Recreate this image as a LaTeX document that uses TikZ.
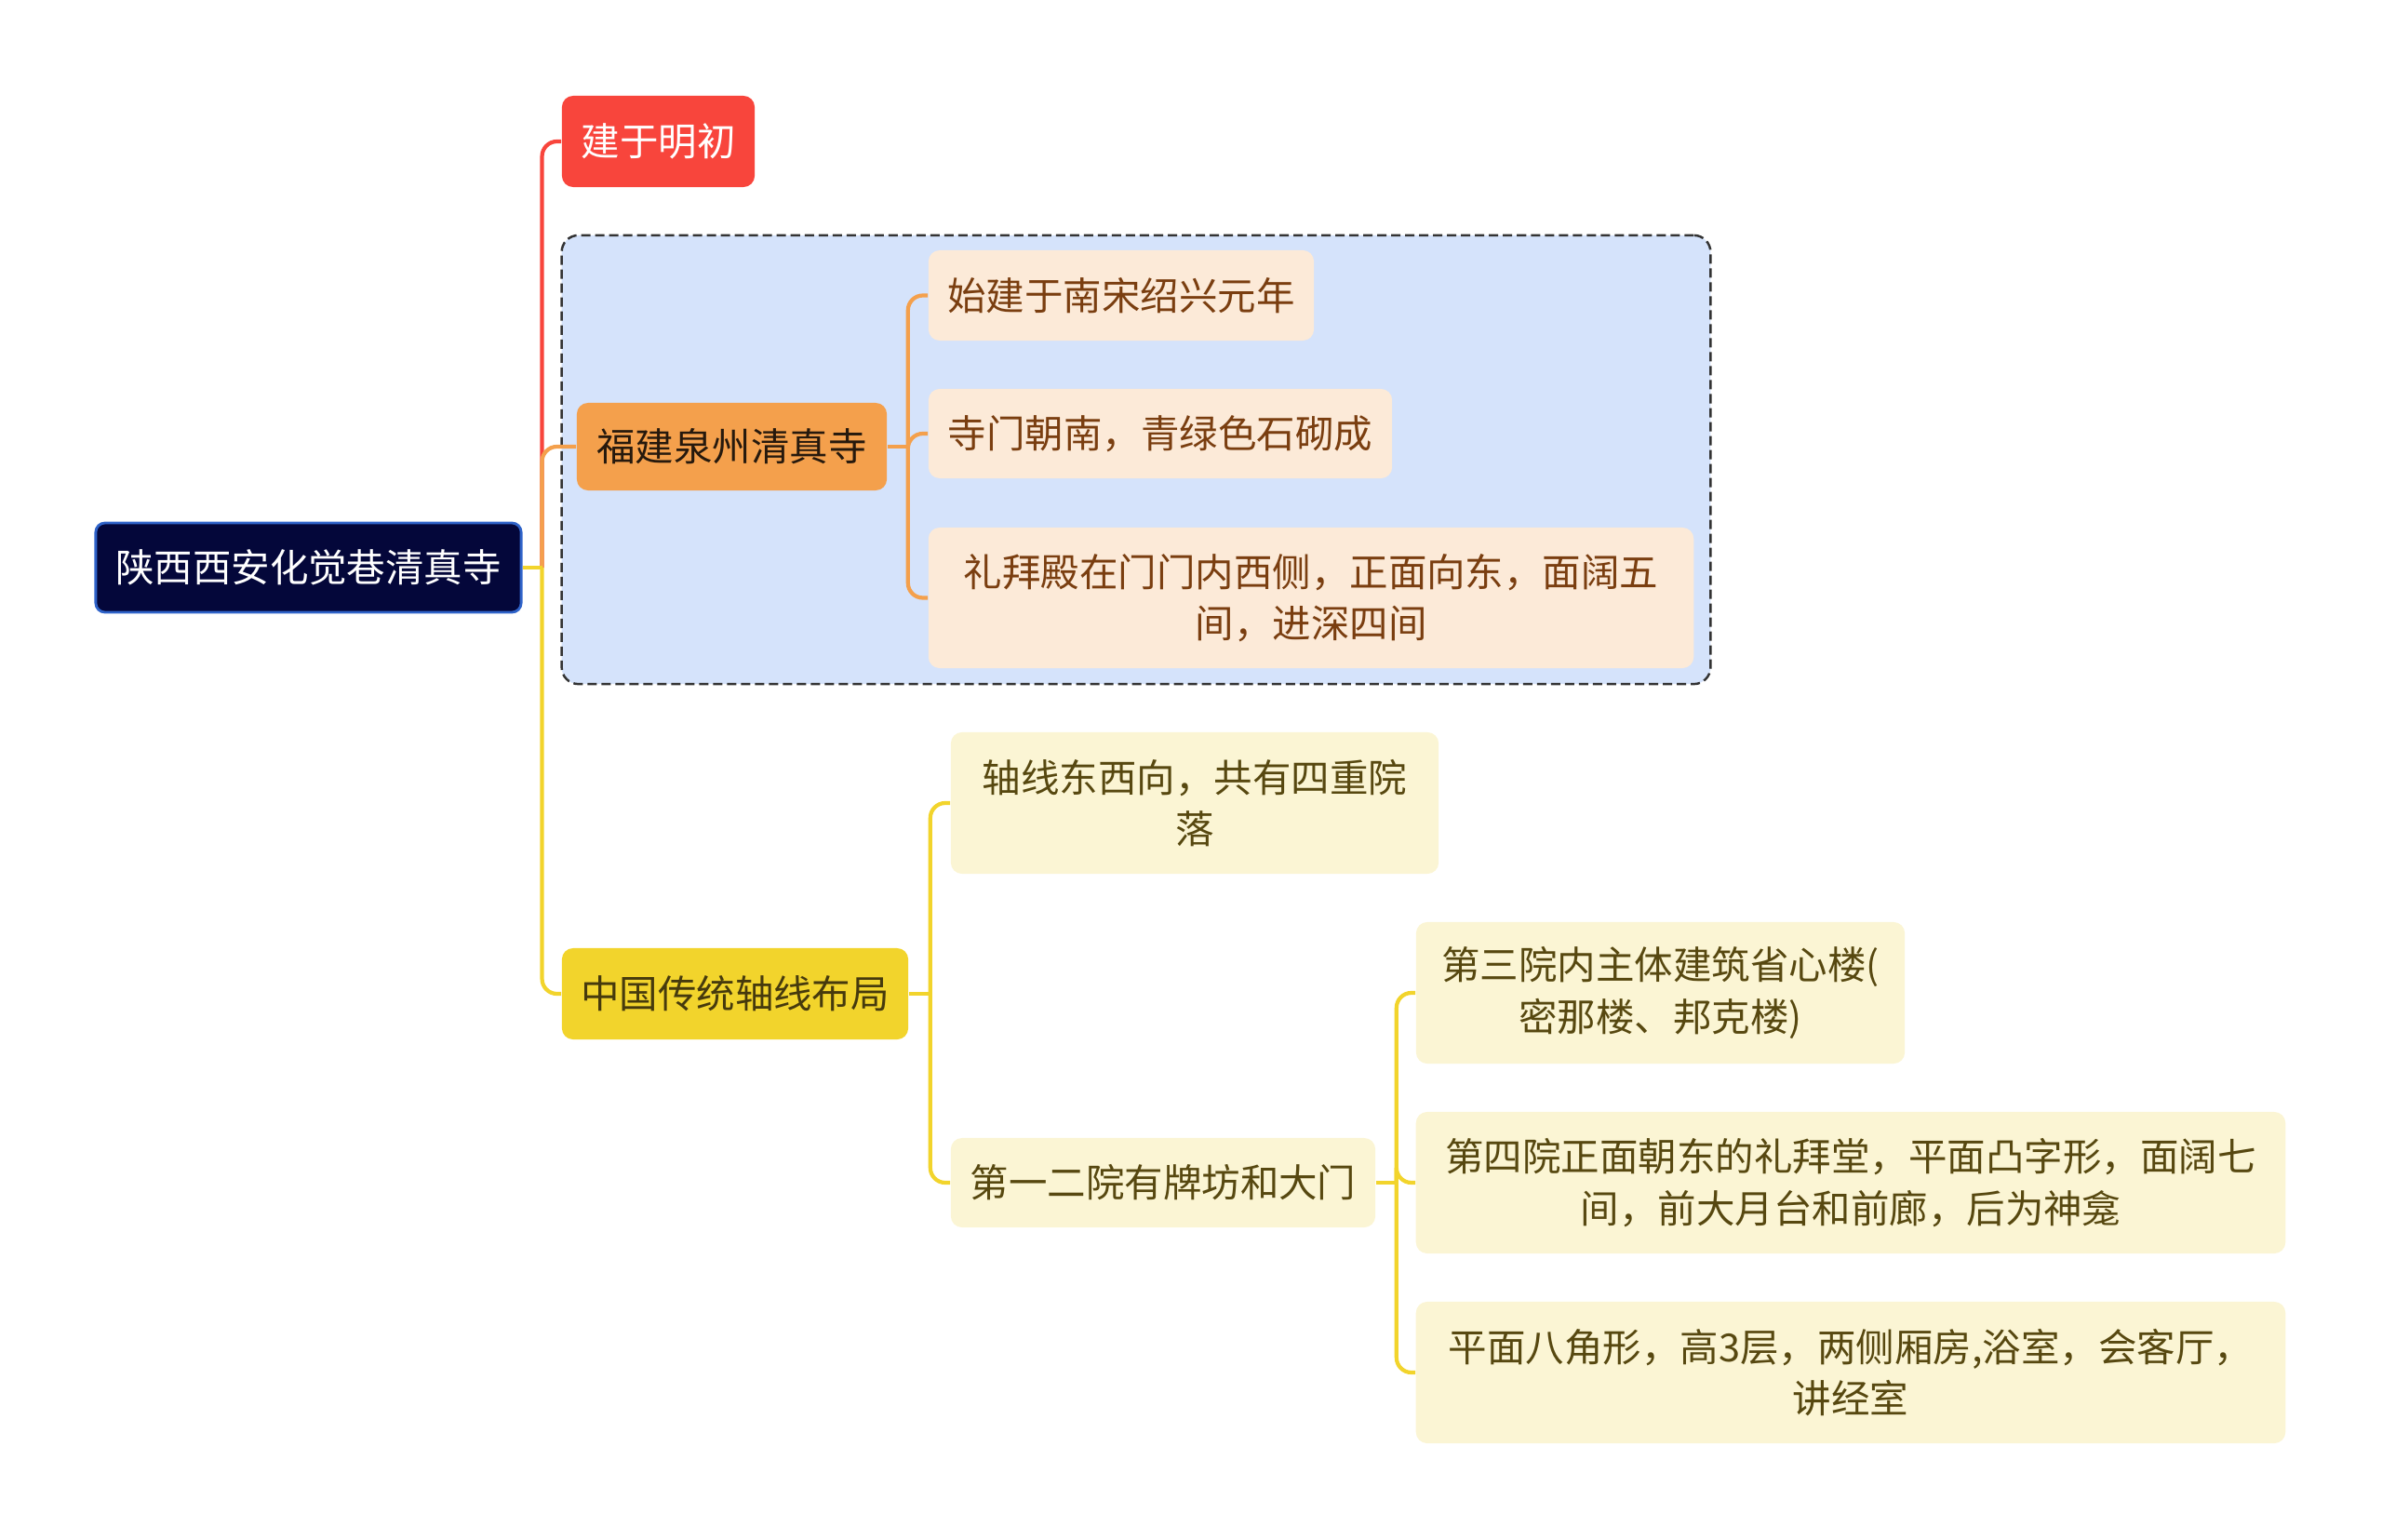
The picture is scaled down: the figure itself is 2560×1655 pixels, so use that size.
\documentclass[tikz,border=0pt]{standalone}
\usepackage{fontspec}
\setmainfont{Noto Sans CJK SC}
\usepackage{xcolor}
\usetikzlibrary{positioning,calc}
\definecolor{navy}{HTML}{04073A}
\definecolor{navyline}{HTML}{2F63C9}
\definecolor{redfill}{HTML}{F8453C}
\definecolor{orangefill}{HTML}{F4A04C}
\definecolor{peach}{HTML}{FCEAD8}
\definecolor{peachtext}{HTML}{7A3E10}
\definecolor{yellowfill}{HTML}{F2D42C}
\definecolor{paleyellow}{HTML}{FBF5D4}
\definecolor{olivetext}{HTML}{574810}
\definecolor{groupfill}{HTML}{D5E3FB}
\tikzset{
  rootbox/.style={draw=navyline,line width=0.8pt,rounded corners=0.1cm,fill=navy,text=white,align=center,inner sep=0pt},
  redbox/.style={rounded corners=0.12cm,fill=redfill,text=white,align=center,inner sep=0pt},
  orangebox/.style={rounded corners=0.12cm,fill=orangefill,text=black!80!brown,align=center,inner sep=0pt},
  peachbox/.style={rounded corners=0.12cm,fill=peach,text=peachtext,align=center,inner sep=0pt},
  yellowbox/.style={rounded corners=0.12cm,fill=yellowfill,text=olivetext!80!black,align=center,inner sep=0pt},
  paleybox/.style={rounded corners=0.12cm,fill=paleyellow,text=olivetext,align=center,inner sep=0pt},
  groupbox/.style={draw=black!80,dash pattern=on 0.1cm off 0.05cm,line width=0.7pt,rounded corners=0.18cm,fill=groupfill,inner sep=0pt},
  branch/.style={line width=1.2pt},
  elbow/.style={line width=1.2pt,rounded corners=0.16cm},
}
\begin{document}
\begin{tikzpicture}[x=0.01cm,y=-0.01cm,font=\fontsize{11.8pt}{15.8pt}\selectfont]
  \useasboundingbox (0,0) rectangle (2560,1655);
  % dashed group behind the Quanzhou branch
  \node[groupbox,minimum width=12.34cm,minimum height=4.82cm] (grp) at (1221,494) {};
  % main topic and first level
  \node[rootbox,minimum width=4.57cm,minimum height=0.96cm] (root) at (331.5,610) {陕西西安化觉巷清真寺};
  \node[redbox,minimum width=2.07cm,minimum height=0.98cm] (ming) at (707.5,152) {建于明初};
  \node[orangebox,minimum width=3.33cm,minimum height=0.94cm] (quanzhou) at (786.5,480) {福建泉州清真寺};
  \node[yellowbox,minimum width=3.72cm,minimum height=0.98cm] (axis) at (790,1068) {中国传统轴线布局};
  % Quanzhou details
  \node[peachbox,minimum width=4.14cm,minimum height=0.97cm] (qz1) at (1205,317.5) {始建于南宋绍兴元年};
  \node[peachbox,minimum width=4.98cm,minimum height=0.96cm] (qz2) at (1247,466) {寺门朝南，青绿色石砌成};
  \node[peachbox,minimum width=8.22cm,minimum height=1.51cm] (qz3) at (1409,642.5) {礼拜殿在门门内西侧，正面向东，面阔五\\间，进深四间};
  % axis layout details
  \node[paleybox,minimum width=5.24cm,minimum height=1.52cm] (ax1) at (1284,863) {轴线东西向，共有四重院\\落};
  \node[paleybox,minimum width=4.56cm,minimum height=0.96cm] (ax2) at (1250,1271) {第一二院有牌坊和大门};
  \node[paleybox,minimum width=5.25cm,minimum height=1.52cm] (yard3) at (1784.5,1067) {第三院内主体建筑省心楼(\\密那楼、邦克楼)};
  \node[paleybox,minimum width=9.34cm,minimum height=1.52cm] (yard4) at (1989,1271) {第四院正面朝东的礼拜堂，平面凸字形，面阔七\\间，前大月台和前廊，后为神龛};
  \node[paleybox,minimum width=9.34cm,minimum height=1.52cm] (yard5) at (1989,1475) {平面八角形，高3层，两侧厢房,浴室，会客厅，\\讲经室};
  % joints where the stubs meet the trunks
  \coordinate (rootjoint) at ($(root.east)+(21,0)$);
  \coordinate (qzjoint) at ($(quanzhou.east)+(22,0)$);
  \coordinate (axjoint) at ($(axis.east)+(23,0)$);
  \coordinate (yardjoint) at ($(ax2.east)+(22,0)$);
  % connectors
  \draw[elbow,redfill] (rootjoint) |- (ming.west);
  \draw[elbow,orangefill] (rootjoint) |- (quanzhou.west);
  \draw[elbow,yellowfill] (rootjoint) |- (axis.west);
  \draw[branch,yellowfill] (root.east) -- (rootjoint);
  \foreach \n in {qz1,qz2,qz3}
    \draw[elbow,orangefill] (qzjoint) |- (\n.west);
  \draw[branch,orangefill] (quanzhou.east) -- (qzjoint);
  \foreach \n in {ax1,ax2}
    \draw[elbow,yellowfill] (axjoint) |- (\n.west);
  \draw[branch,yellowfill] (axis.east) -- (axjoint);
  \foreach \n in {yard3,yard4,yard5}
    \draw[elbow,yellowfill] (yardjoint) |- (\n.west);
  \draw[branch,yellowfill] (ax2.east) -- (yardjoint);
\end{tikzpicture}
\end{document}
